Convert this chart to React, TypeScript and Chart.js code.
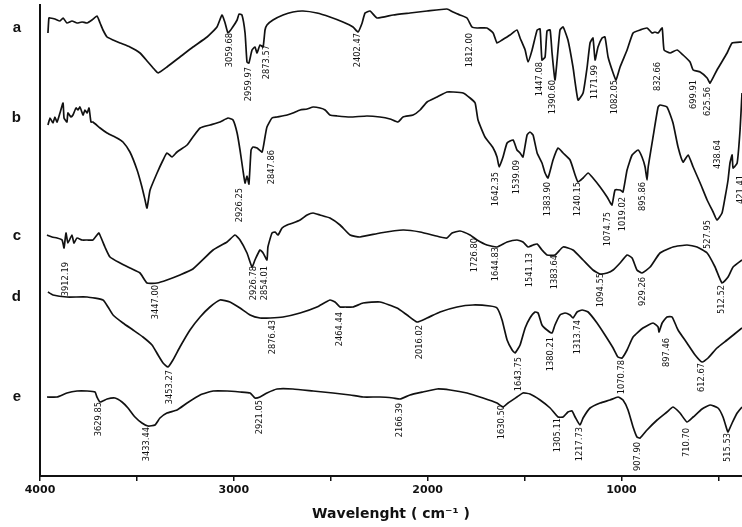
import React, { useEffect, useRef } from 'react';
import { Chart, registerables } from 'chart.js';

Chart.register(...registerables);

// Wavenumber (cm-1) vs. stacked transmittance (arbitrary offset units)
const SPECTRUM_A: [number, number][] = [
  [3959, 443], [3954, 458], [3948, 458], [3923, 457], [3897, 455], [3881, 458], [3861, 453], [3835, 455],
  [3809, 453], [3783, 454], [3757, 453], [3732, 456], [3706, 460], [3690, 453], [3675, 446], [3654, 439],
  [3623, 436], [3587, 433], [3536, 429], [3484, 423], [3443, 414], [3407, 406], [3391, 403], [3345, 409],
  [3278, 419], [3211, 429], [3138, 439], [3087, 449], [3061, 461], [3045, 453], [3030, 443], [3009, 448],
  [2983, 456], [2973, 462], [2958, 461], [2942, 443], [2932, 414], [2922, 413], [2906, 426], [2891, 429],
  [2880, 423], [2865, 431], [2849, 429], [2839, 446], [2829, 451], [2798, 456], [2746, 461], [2695, 464],
  [2643, 465], [2571, 463], [2504, 459], [2437, 454], [2385, 449], [2359, 444], [2338, 453], [2323, 463],
  [2297, 465], [2261, 458], [2178, 461], [2091, 463], [2003, 465], [1900, 467], [1869, 464], [1833, 461],
  [1797, 458], [1771, 449], [1745, 448], [1694, 448], [1662, 443], [1642, 433], [1616, 436], [1575, 441],
  [1539, 446], [1523, 438], [1497, 426], [1482, 414], [1461, 426], [1435, 446], [1420, 447], [1410, 416],
  [1394, 419], [1384, 445], [1368, 446], [1358, 423], [1343, 396], [1332, 416], [1317, 446], [1301, 449],
  [1276, 436], [1250, 409], [1224, 376], [1198, 383], [1177, 409], [1162, 433], [1147, 438], [1136, 416],
  [1121, 429], [1100, 438], [1085, 439], [1069, 419], [1043, 403], [1028, 396], [1007, 409], [971, 426],
  [940, 443], [904, 446], [868, 448], [842, 443], [827, 444], [811, 443], [790, 448], [780, 426],
  [749, 423], [713, 426], [682, 421], [646, 414], [630, 406], [594, 404], [558, 398], [543, 393],
  [507, 406], [455, 423], [429, 433], [378, 434],
];

const SPECTRUM_B: [number, number][] = [
  [3959, 351], [3948, 358], [3933, 353], [3923, 359], [3912, 354], [3897, 363], [3881, 373], [3876, 358],
  [3861, 354], [3856, 363], [3840, 359], [3830, 361], [3814, 368], [3804, 366], [3794, 369], [3778, 361],
  [3768, 366], [3757, 363], [3747, 368], [3737, 354], [3727, 354], [3690, 348], [3654, 343], [3603, 338],
  [3572, 334], [3536, 324], [3499, 306], [3474, 289], [3458, 276], [3448, 268], [3432, 286], [3396, 303],
  [3365, 316], [3345, 323], [3319, 319], [3293, 324], [3241, 331], [3211, 339], [3174, 348], [3123, 351],
  [3071, 354], [3030, 358], [3004, 356], [2983, 343], [2968, 326], [2953, 306], [2942, 293], [2932, 300],
  [2922, 292], [2911, 326], [2901, 329], [2880, 328], [2854, 324], [2839, 339], [2829, 349], [2803, 358],
  [2777, 359], [2725, 361], [2695, 363], [2658, 366], [2622, 367], [2591, 369], [2555, 368], [2529, 366],
  [2504, 361], [2467, 360], [2400, 359], [2313, 360], [2246, 359], [2194, 357], [2153, 354], [2127, 359],
  [2075, 361], [2039, 366], [2003, 374], [1951, 379], [1900, 384], [1869, 384], [1817, 383], [1781, 378],
  [1755, 373], [1740, 356], [1704, 339], [1662, 328], [1642, 319], [1631, 309], [1611, 319], [1590, 333],
  [1559, 336], [1539, 326], [1523, 323], [1508, 319], [1487, 341], [1472, 344], [1456, 341], [1435, 323],
  [1410, 313], [1394, 303], [1379, 298], [1353, 316], [1327, 328], [1301, 323], [1265, 316], [1239, 301],
  [1224, 294], [1198, 298], [1172, 303], [1147, 298], [1110, 289], [1074, 279], [1049, 271], [1033, 286],
  [1007, 286], [992, 284], [971, 306], [945, 321], [914, 326], [894, 319], [878, 309], [868, 296],
  [862, 309], [837, 339], [811, 369], [801, 371], [765, 369], [734, 353], [708, 329], [682, 314],
  [656, 321], [630, 309], [594, 293], [558, 276], [527, 264], [507, 256], [481, 263], [465, 279],
  [450, 296], [440, 313], [429, 321], [424, 308], [403, 313], [388, 346], [378, 383],
];

const SPECTRUM_C: [number, number][] = [
  [3964, 241], [3938, 239], [3912, 238], [3886, 236], [3876, 228], [3866, 243], [3856, 233], [3835, 241],
  [3825, 233], [3809, 238], [3783, 236], [3757, 236], [3727, 236], [3706, 241], [3696, 243], [3680, 236],
  [3665, 229], [3639, 219], [3587, 213], [3536, 208], [3484, 203], [3448, 193], [3396, 193], [3345, 196],
  [3278, 201], [3211, 207], [3107, 226], [3035, 234], [2994, 241], [2968, 236], [2932, 223], [2906, 209],
  [2891, 216], [2865, 226], [2849, 223], [2829, 216], [2824, 229], [2803, 243], [2787, 244], [2772, 241],
  [2751, 248], [2725, 251], [2695, 253], [2658, 256], [2622, 261], [2591, 263], [2555, 261], [2504, 258],
  [2452, 251], [2400, 241], [2349, 239], [2246, 243], [2127, 246], [2039, 244], [1936, 239], [1900, 238],
  [1874, 243], [1833, 245], [1781, 241], [1745, 236], [1694, 231], [1642, 229], [1590, 234], [1539, 236],
  [1508, 234], [1482, 229], [1456, 231], [1435, 232], [1410, 226], [1384, 221], [1343, 221], [1301, 229],
  [1250, 226], [1198, 216], [1147, 206], [1110, 202], [1074, 203], [1043, 206], [1007, 213], [971, 221],
  [945, 218], [920, 206], [894, 203], [852, 209], [801, 223], [734, 229], [662, 231], [610, 229],
  [558, 223], [517, 209], [481, 193], [450, 199], [424, 209], [378, 216],
];

const SPECTRUM_D: [number, number][] = [
  [3959, 184], [3933, 181], [3861, 179], [3757, 179], [3675, 176], [3649, 169], [3623, 161], [3572, 153],
  [3520, 146], [3469, 139], [3422, 131], [3391, 121], [3365, 113], [3340, 109], [3314, 116], [3278, 129],
  [3226, 146], [3174, 159], [3123, 169], [3071, 176], [3020, 174], [2968, 168], [2916, 161], [2865, 158],
  [2813, 158], [2746, 159], [2658, 163], [2571, 169], [2504, 176], [2478, 174], [2452, 169], [2426, 169],
  [2385, 169], [2333, 173], [2246, 174], [2158, 168], [2106, 161], [2055, 154], [2003, 158], [1936, 164],
  [1848, 169], [1766, 171], [1678, 170], [1642, 168], [1616, 156], [1590, 136], [1564, 126], [1549, 123],
  [1523, 131], [1497, 148], [1472, 158], [1446, 164], [1430, 163], [1410, 151], [1384, 146], [1358, 143],
  [1343, 151], [1317, 161], [1291, 163], [1265, 161], [1250, 158], [1229, 164], [1203, 166], [1172, 164],
  [1126, 153], [1085, 141], [1043, 128], [1018, 119], [997, 118], [971, 126], [940, 139], [889, 148],
  [837, 153], [811, 149], [806, 144], [790, 153], [765, 159], [739, 159], [708, 146], [662, 133],
  [620, 121], [584, 114], [553, 118], [507, 128], [455, 136], [378, 148],
];

const SPECTRUM_E: [number, number][] = [
  [3964, 79], [3912, 79], [3861, 83], [3809, 85], [3757, 85], [3716, 84], [3706, 79], [3690, 74],
  [3654, 77], [3613, 78], [3577, 74], [3546, 68], [3510, 59], [3474, 53], [3443, 50], [3407, 51],
  [3381, 58], [3345, 63], [3293, 66], [3241, 73], [3174, 81], [3107, 85], [3035, 85], [2968, 84],
  [2916, 83], [2891, 78], [2865, 79], [2829, 83], [2777, 87], [2695, 87], [2591, 85], [2488, 83],
  [2400, 81], [2333, 79], [2246, 79], [2178, 78], [2142, 77], [2091, 81], [2024, 84], [1951, 87],
  [1884, 86], [1797, 83], [1714, 78], [1642, 73], [1611, 69], [1585, 73], [1539, 79], [1508, 83],
  [1472, 82], [1420, 76], [1368, 68], [1327, 59], [1301, 59], [1276, 64], [1255, 65], [1239, 59],
  [1214, 51], [1198, 58], [1162, 68], [1110, 73], [1059, 76], [1018, 79], [992, 76], [966, 66],
  [940, 49], [920, 39], [904, 38], [868, 46], [816, 56], [765, 64], [734, 69], [698, 63],
  [662, 54], [630, 59], [584, 67], [543, 71], [502, 68], [476, 59], [455, 46], [450, 44],
  [429, 53], [403, 63], [378, 69],
];

// Peak annotations: [wavenumber position, level of label top, text]
const PEAKS_A: [number, number, string][] = [
  [3020, 443, '3059.68'], [2922, 409, '2959.97'], [2829, 431, '2873.57'], [2359, 443, '2402.47'],
  [1781, 443, '1812.00'], [1420, 414, '1447.08'], [1353, 396, '1390.60'], [1136, 411, '1171.99'],
  [1033, 396, '1082.05'], [811, 414, '832.66'], [630, 396, '699.91'], [553, 389, '625.56'],
];
const PEAKS_B: [number, number, string][] = [
  [2968, 288, '2926.25'], [2803, 326, '2847.86'], [1647, 304, '1642.35'], [1539, 316, '1539.09'],
  [1379, 294, '1383.90'], [1224, 294, '1240.15'], [1069, 264, '1074.75'], [992, 279, '1019.02'],
  [889, 294, '895.86'], [553, 256, '527.95'], [502, 336, '438.64'], [383, 301, '421.41'],
];
const PEAKS_C: [number, number, string][] = [
  [3866, 214, '3912.19'], [3401, 191, '3447.00'], [2896, 210, '2926.78'], [2839, 210, '2854.01'],
  [1755, 238, '1726.80'], [1647, 229, '1644.83'], [1472, 223, '1541.13'], [1343, 221, '1383.64'],
  [1110, 203, '1094.55'], [889, 199, '929.26'], [481, 191, '512.52'],
];
const PEAKS_D: [number, number, string][] = [
  [3329, 106, '3453.27'], [2798, 156, '2876.43'], [2452, 164, '2464.44'], [2039, 151, '2016.02'],
  [1528, 119, '1643.75'], [1368, 139, '1380.21'], [1224, 156, '1313.74'], [997, 116, '1070.78'],
  [765, 138, '897.46'], [584, 113, '612.67'],
];
const PEAKS_E: [number, number, string][] = [
  [3696, 74, '3629.85'], [3448, 49, '3433.44'], [2865, 76, '2921.05'], [2142, 73, '2166.39'],
  [1616, 71, '1630.50'], [1327, 58, '1305.11'], [1214, 49, '1217.73'], [914, 34, '907.90'],
  [662, 48, '710.70'], [450, 43, '515.53'],
];

const SERIES_LETTERS = ['a', 'b', 'c', 'd', 'e'];
const LETTER_LEVELS = [448, 358, 240, 179, 79];
const X_TICKS = [4000, 3500, 3000, 2500, 2000, 1500, 1000, 500];
const X_LABELED = [4000, 3000, 2000, 1000];
const X_TITLE = 'Wavelenght ( cm\u207B\u00B9 )';

export default function App() {
  const ref = useRef<HTMLCanvasElement | null>(null);

  useEffect(() => {
    document.body.style.margin = '0';
    const series = [SPECTRUM_A, SPECTRUM_B, SPECTRUM_C, SPECTRUM_D, SPECTRUM_E];
    const peaks = [PEAKS_A, PEAKS_B, PEAKS_C, PEAKS_D, PEAKS_E];

    const peakPlugin = {
      id: 'peakLabels',
      afterDatasetsDraw(chart: any) {
        const { ctx, scales } = chart;
        const xs = scales.x;
        const ys = scales.y;
        ctx.save();
        ctx.fillStyle = '#111';
        ctx.font = "9.2px 'Liberation Sans Narrow', 'DejaVu Sans Condensed', sans-serif";
        ctx.textAlign = 'right';
        ctx.textBaseline = 'middle';
        peaks.forEach((list) =>
          list.forEach(([wn, lvl, text]) => {
            const px = xs.getPixelForValue(wn);
            const py = ys.getPixelForValue(lvl);
            ctx.save();
            ctx.translate(px, py);
            ctx.rotate(-Math.PI / 2);
            ctx.fillText(text, 0, 0);
            ctx.restore();
          })
        );
        ctx.restore();
      },
    };

    const chart = new Chart(ref.current as HTMLCanvasElement, {
      type: 'line',
      data: {
        datasets: series.map((s, i) => ({
          label: SERIES_LETTERS[i],
          data: s.map(([x, y]) => ({ x, y })),
          borderColor: '#111',
          borderWidth: 1.7,
          pointRadius: 0,
          tension: 0.15,
          fill: false,
        })),
      },
      options: {
        responsive: false,
        animation: false,
        devicePixelRatio: 1,
        layout: { padding: { top: 5, right: 0, left: 0, bottom: 0 } },
        plugins: { legend: { display: false }, tooltip: { enabled: false } },
        scales: {
          x: {
            type: 'linear',
            reverse: true,
            min: 378,
            max: 4000,
            afterBuildTicks: (ax: any) => {
              ax.ticks = X_TICKS.map((v) => ({ value: v }));
            },
            afterFit: (ax: any) => {
              ax.height = 51;
              ax.paddingLeft = 0;
              ax.paddingRight = 0;
            },
            ticks: {
              autoSkip: false,
              maxRotation: 0,
              padding: 3,
              color: '#111',
              font: { family: "'DejaVu Sans', sans-serif", size: 11, weight: 'bold' },
              callback: (v: any) => (X_LABELED.includes(Number(v)) ? String(v) : ''),
            },
            grid: {
              display: true,
              drawOnChartArea: false,
              drawTicks: true,
              tickLength: 5,
              color: '#111',
              lineWidth: 1.5,
            },
            border: { display: true, color: '#111', width: 2 },
            title: {
              display: true,
              text: X_TITLE,
              color: '#111',
              font: { family: "'DejaVu Sans', sans-serif", size: 14, weight: 'bold' },
              padding: { top: 0, bottom: 4 },
            },
          },
          y: {
            type: 'linear',
            min: 0,
            max: 471,
            afterBuildTicks: (ax: any) => {
              ax.ticks = LETTER_LEVELS.map((v) => ({ value: v }));
            },
            afterFit: (ax: any) => {
              ax.width = 40;
              ax.paddingTop = 0;
              ax.paddingBottom = 0;
            },
            ticks: {
              autoSkip: false,
              padding: 19,
              color: '#111',
              font: { family: "'Liberation Sans', Arial, sans-serif", size: 15, weight: 'bold' },
              callback: (v: any) => {
                const i = LETTER_LEVELS.indexOf(Number(v));
                return i >= 0 ? SERIES_LETTERS[i] : '';
              },
            },
            grid: { display: false, drawTicks: false },
            border: { display: true, color: '#111', width: 2 },
          },
        },
      },
      plugins: [peakPlugin],
    } as any);

    return () => chart.destroy();
  }, []);

  return (
    <div style={{ position: 'fixed', left: 0, top: 0, width: 742, height: 527, background: '#fff' }}>
      <canvas ref={ref} width={742} height={527} style={{ display: 'block' }} />
    </div>
  );
}
